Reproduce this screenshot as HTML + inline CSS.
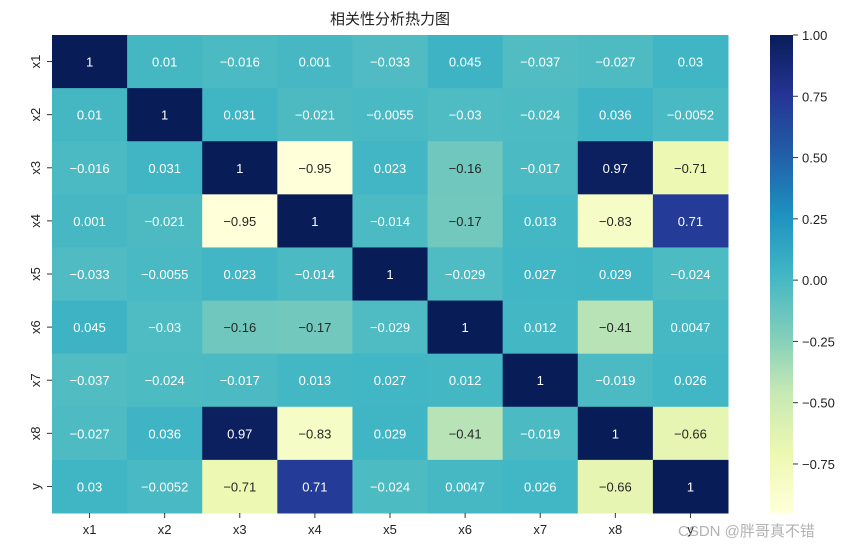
<!DOCTYPE html><html><head><meta charset="utf-8"><style>body{margin:0;background:#fff}svg{display:block;font-family:"Liberation Sans","Noto Sans CJK SC",sans-serif}</style></head><body>
<svg id="s" width="865" height="549" xmlns="http://www.w3.org/2000/svg"></svg>
<script>
const M=[[1,0.01,-0.016,0.001,-0.033,0.045,-0.037,-0.027,0.03],
[0.01,1,0.031,-0.021,-0.0055,-0.03,-0.024,0.036,-0.0052],
[-0.016,0.031,1,-0.95,0.023,-0.16,-0.017,0.97,-0.71],
[0.001,-0.021,-0.95,1,-0.014,-0.17,0.013,-0.83,0.71],
[-0.033,-0.0055,0.023,-0.014,1,-0.029,0.027,0.029,-0.024],
[0.045,-0.03,-0.16,-0.17,-0.029,1,0.012,-0.41,0.0047],
[-0.037,-0.024,-0.017,0.013,0.027,0.012,1,-0.019,0.026],
[-0.027,0.036,0.97,-0.83,0.029,-0.41,-0.019,1,-0.66],
[0.03,-0.0052,-0.71,0.71,-0.024,0.0047,0.026,-0.66,1]];
const L=["x1","x2","x3","x4","x5","x6","x7","x8","y"];
const C=["#ffffd9","#edf8b1","#c7e9b4","#7fcdbb","#41b6c4","#1d91c0","#225ea8","#253494","#081d58"].map(h=>[1,3,5].map(i=>parseInt(h.substr(i,2),16)));
const vmin=-0.95,vmax=1;
function col(v){let t=(v-vmin)/(vmax-vmin);t=Math.max(0,Math.min(1,t))*8;let i=Math.min(7,Math.floor(t)),f=t-i;let c=C[i].map((a,k)=>Math.round(a+(C[i+1][k]-a)*f));return c;}
let x0=52,y0=35,W=676/9,H=478/9,o="";
o+=`<text x="390" y="24" font-size="15" text-anchor="middle" fill="#222">相关性分析热力图</text>`;
for(let r=0;r<9;r++)for(let c=0;c<9;c++){let v=M[r][c],k=col(v);
o+=`<rect x="${x0+c*W}" y="${y0+r*H}" width="${W+0.5}" height="${H+0.5}" fill="rgb(${k})"/>`;
o+=`<text x="${x0+c*W+W/2}" y="${y0+r*H+H/2+5}" font-size="13" text-anchor="middle" fill="${v<-0.1&&v>-1?'#262626':'#fff'}">${String(v).replace('-','−')}</text>`;}
for(let i=0;i<9;i++){let cx=x0+i*W+W/2,cy=y0+i*H+H/2;
o+=`<line x1="${cx}" y1="513" x2="${cx}" y2="518" stroke="#333"/><text x="${cx}" y="534" font-size="13" text-anchor="middle" fill="#222">${L[i]}</text>`;
o+=`<line x1="47" y1="${cy}" x2="52" y2="${cy}" stroke="#333"/><text transform="translate(40 ${cy}) rotate(-90)" font-size="13" text-anchor="middle" fill="#222">${L[i]}</text>`;}
o+=`<defs><linearGradient id="g" x1="0" y1="1" x2="0" y2="0">${C.map((c,i)=>`<stop offset="${i/8}" stop-color="rgb(${c})"/>`).join('')}</linearGradient></defs>`;
o+=`<rect x="770" y="35" width="23" height="478" fill="url(#g)"/>`;
for(let v=1;v>=-0.76;v-=0.25){let y=35+(vmax-v)/(vmax-vmin)*478;o+=`<line x1="793" y1="${y}" x2="798" y2="${y}" stroke="#333"/><text x="802" y="${y+5}" font-size="13" fill="#222">${(v<0?'−':'')+Math.abs(v).toFixed(2)}</text>`;}
o+=`<text x="678" y="536" font-size="15" fill="#aaa" opacity="0.9">CSDN @胖哥真不错</text>`;
document.getElementById('s').innerHTML=o;
</script></body></html>
